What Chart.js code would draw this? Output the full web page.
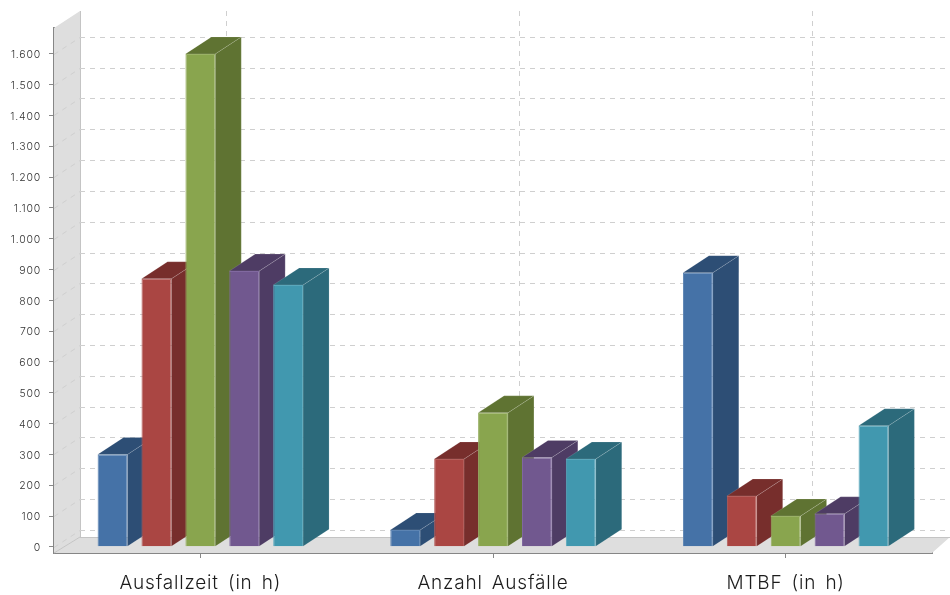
<!DOCTYPE html>
<html lang="de">
<head>
<meta charset="utf-8">
<title>Ausfallstatistik</title>
<script src="https://cdn.jsdelivr.net/npm/chart.js@4/dist/chart.umd.min.js"></script>
<style>
  html, body { margin: 0; background: #fff; }
  canvas { display: block; }
</style>
</head>
<body>
<canvas id="chart" width="950" height="595"></canvas>
<script>
const categories = ["Ausfallzeit (in h)", "Anzahl Ausfälle", "MTBF (in h)"];
const tickValues = [0, 100, 200, 300, 400, 500, 600, 700, 800, 900, 1000, 1100, 1200, 1300, 1400, 1500, 1600];

const seriesBlue = [300, 55, 890];
const seriesRed = [870, 285, 165];
const seriesGreen = [1600, 435, 100];
const seriesPurple = [895, 290, 107];
const seriesTeal = [850, 285, 393];

const allSeries = [seriesBlue, seriesRed, seriesGreen, seriesPurple, seriesTeal];
const frontColors = ["#4572a7", "#aa4643", "#89a54e", "#71588f", "#4198af"];
const shadeColors = ["#2d4e75", "#772e2c", "#5f7332", "#4e3c64", "#2c6a7b"];
const edgeColors = ["#5c84b3", "#b55f5c", "#9ab166", "#8169a0", "#5aa8bc"];

// offset of the back plane relative to the front plane
const depthX = 26;
const depthY = -17;

const polygon = (ctx, points, fill) => {
  ctx.beginPath();
  points.forEach(([x, y], i) => (i ? ctx.lineTo(x, y) : ctx.moveTo(x, y)));
  ctx.closePath();
  ctx.fillStyle = fill;
  ctx.fill();
};

const straightLine = (ctx, x1, y1, x2, y2) => {
  ctx.beginPath();
  ctx.moveTo(x1, y1);
  ctx.lineTo(x2, y2);
  ctx.stroke();
};

// Chart.js has no font option for tracking, so it is set on the context up front
const textSpacingPlugin = {
  id: "textSpacing",
  beforeDraw(chart) {
    chart.ctx.letterSpacing = "0.8px";
    chart.ctx.wordSpacing = "3px";
  },
};

// wall, floor and dashed grid behind the bars
const roomPlugin = {
  id: "room",
  beforeDatasetsDraw(chart) {
    const { ctx, chartArea: area, scales: { x, y } } = chart;
    const backLeft = area.left + depthX;
    const backFloor = area.bottom + depthY + 1;
    ctx.save();

    polygon(ctx, [
      [area.left, area.top],
      [backLeft, area.top + depthY],
      [backLeft, backFloor],
      [area.left, area.bottom],
    ], "#dedede");
    polygon(ctx, [
      [area.left, area.bottom],
      [backLeft, backFloor],
      [chart.width, backFloor],
      [area.right, area.bottom],
    ], "#dedede");

    // creases where wall and floor meet
    ctx.lineWidth = 1;
    ctx.strokeStyle = "#c4c4c4";
    straightLine(ctx, backLeft + 0.5, area.top + depthY, backLeft + 0.5, backFloor);
    straightLine(ctx, backLeft, backFloor + 0.5, chart.width, backFloor + 0.5);
    straightLine(ctx, area.left, area.bottom, backLeft, backFloor);

    ctx.setLineDash([5, 5]);
    ctx.strokeStyle = "#cfcfcf";
    y.ticks.forEach((tick) => {
      const py = Math.round(y.getPixelForValue(tick.value)) + 0.5;
      straightLine(ctx, area.left, py, backLeft, py + depthY);
      straightLine(ctx, backLeft, py + depthY, chart.width, py + depthY);
    });
    x.ticks.forEach((tick, i) => {
      const px = Math.round(x.getPixelForTick(i)) + depthX + 0.5;
      straightLine(ctx, px, area.top + depthY, px, backFloor);
    });
    ctx.setLineDash([]);
    ctx.restore();
  },
};

// side and top faces of the bars; the fronts are drawn by the bar controller afterwards
const bar3dPlugin = {
  id: "bar3d",
  beforeDatasetsDraw(chart) {
    const { ctx } = chart;
    ctx.save();
    ctx.lineWidth = 1;
    ctx.strokeStyle = "rgba(255, 255, 255, 0.13)";
    categories.forEach((_, index) => {
      allSeries.forEach((_, datasetIndex) => {
        const bar = chart.getDatasetMeta(datasetIndex).data[index];
        const left = bar.x - bar.width / 2;
        const right = bar.x + bar.width / 2;
        const color = shadeColors[datasetIndex];
        polygon(ctx, [
          [right, bar.y],
          [right + depthX, bar.y + depthY],
          [right + depthX, bar.base + depthY],
          [right, bar.base],
        ], color);
        ctx.stroke();
        polygon(ctx, [
          [left, bar.y],
          [left + depthX, bar.y + depthY],
          [right + depthX, bar.y + depthY],
          [right, bar.y],
        ], color);
        ctx.stroke();
      });
    });
    ctx.restore();
  },
};

new Chart(document.getElementById("chart"), {
  type: "bar",
  data: {
    labels: categories,
    datasets: allSeries.map((values, i) => ({
      data: values,
      backgroundColor: frontColors[i],
      borderColor: edgeColors[i],
      borderWidth: 1,
      barPercentage: 0.68,
      categoryPercentage: 0.75,
    })),
  },
  options: {
    responsive: false,
    animation: false,
    layout: { padding: { top: 28, right: 18, left: 0, bottom: 0 } },
    plugins: { legend: { display: false }, tooltip: { enabled: false } },
    scales: {
      x: {
        grid: { offset: false, drawOnChartArea: false, tickLength: 5, color: "#888888" },
        border: { color: "#868686", width: 2 },
        ticks: { color: "#1c1c1c", padding: 14, font: { family: "Inter", size: 19, weight: 300 }, maxRotation: 0 },
        afterFit(scale) { scale.height = 42; },
      },
      y: {
        min: -20,
        max: 1684,
        afterBuildTicks(scale) {
          scale.ticks = tickValues.map((value) => ({ value }));
        },
        grid: { drawOnChartArea: false, tickLength: 5, color: "#888888" },
        border: { color: "#868686", width: 2 },
        ticks: {
          color: "#333333",
          padding: 8,
          labelOffset: 1,
          font: { family: "Inter", size: 10.5, weight: 300 },
          callback: (value) => value.toLocaleString("de-DE"),
        },
        afterFit(scale) { scale.width = 54; },
      },
    },
  },
  plugins: [textSpacingPlugin, roomPlugin, bar3dPlugin],
});
</script>
</body>
</html>
